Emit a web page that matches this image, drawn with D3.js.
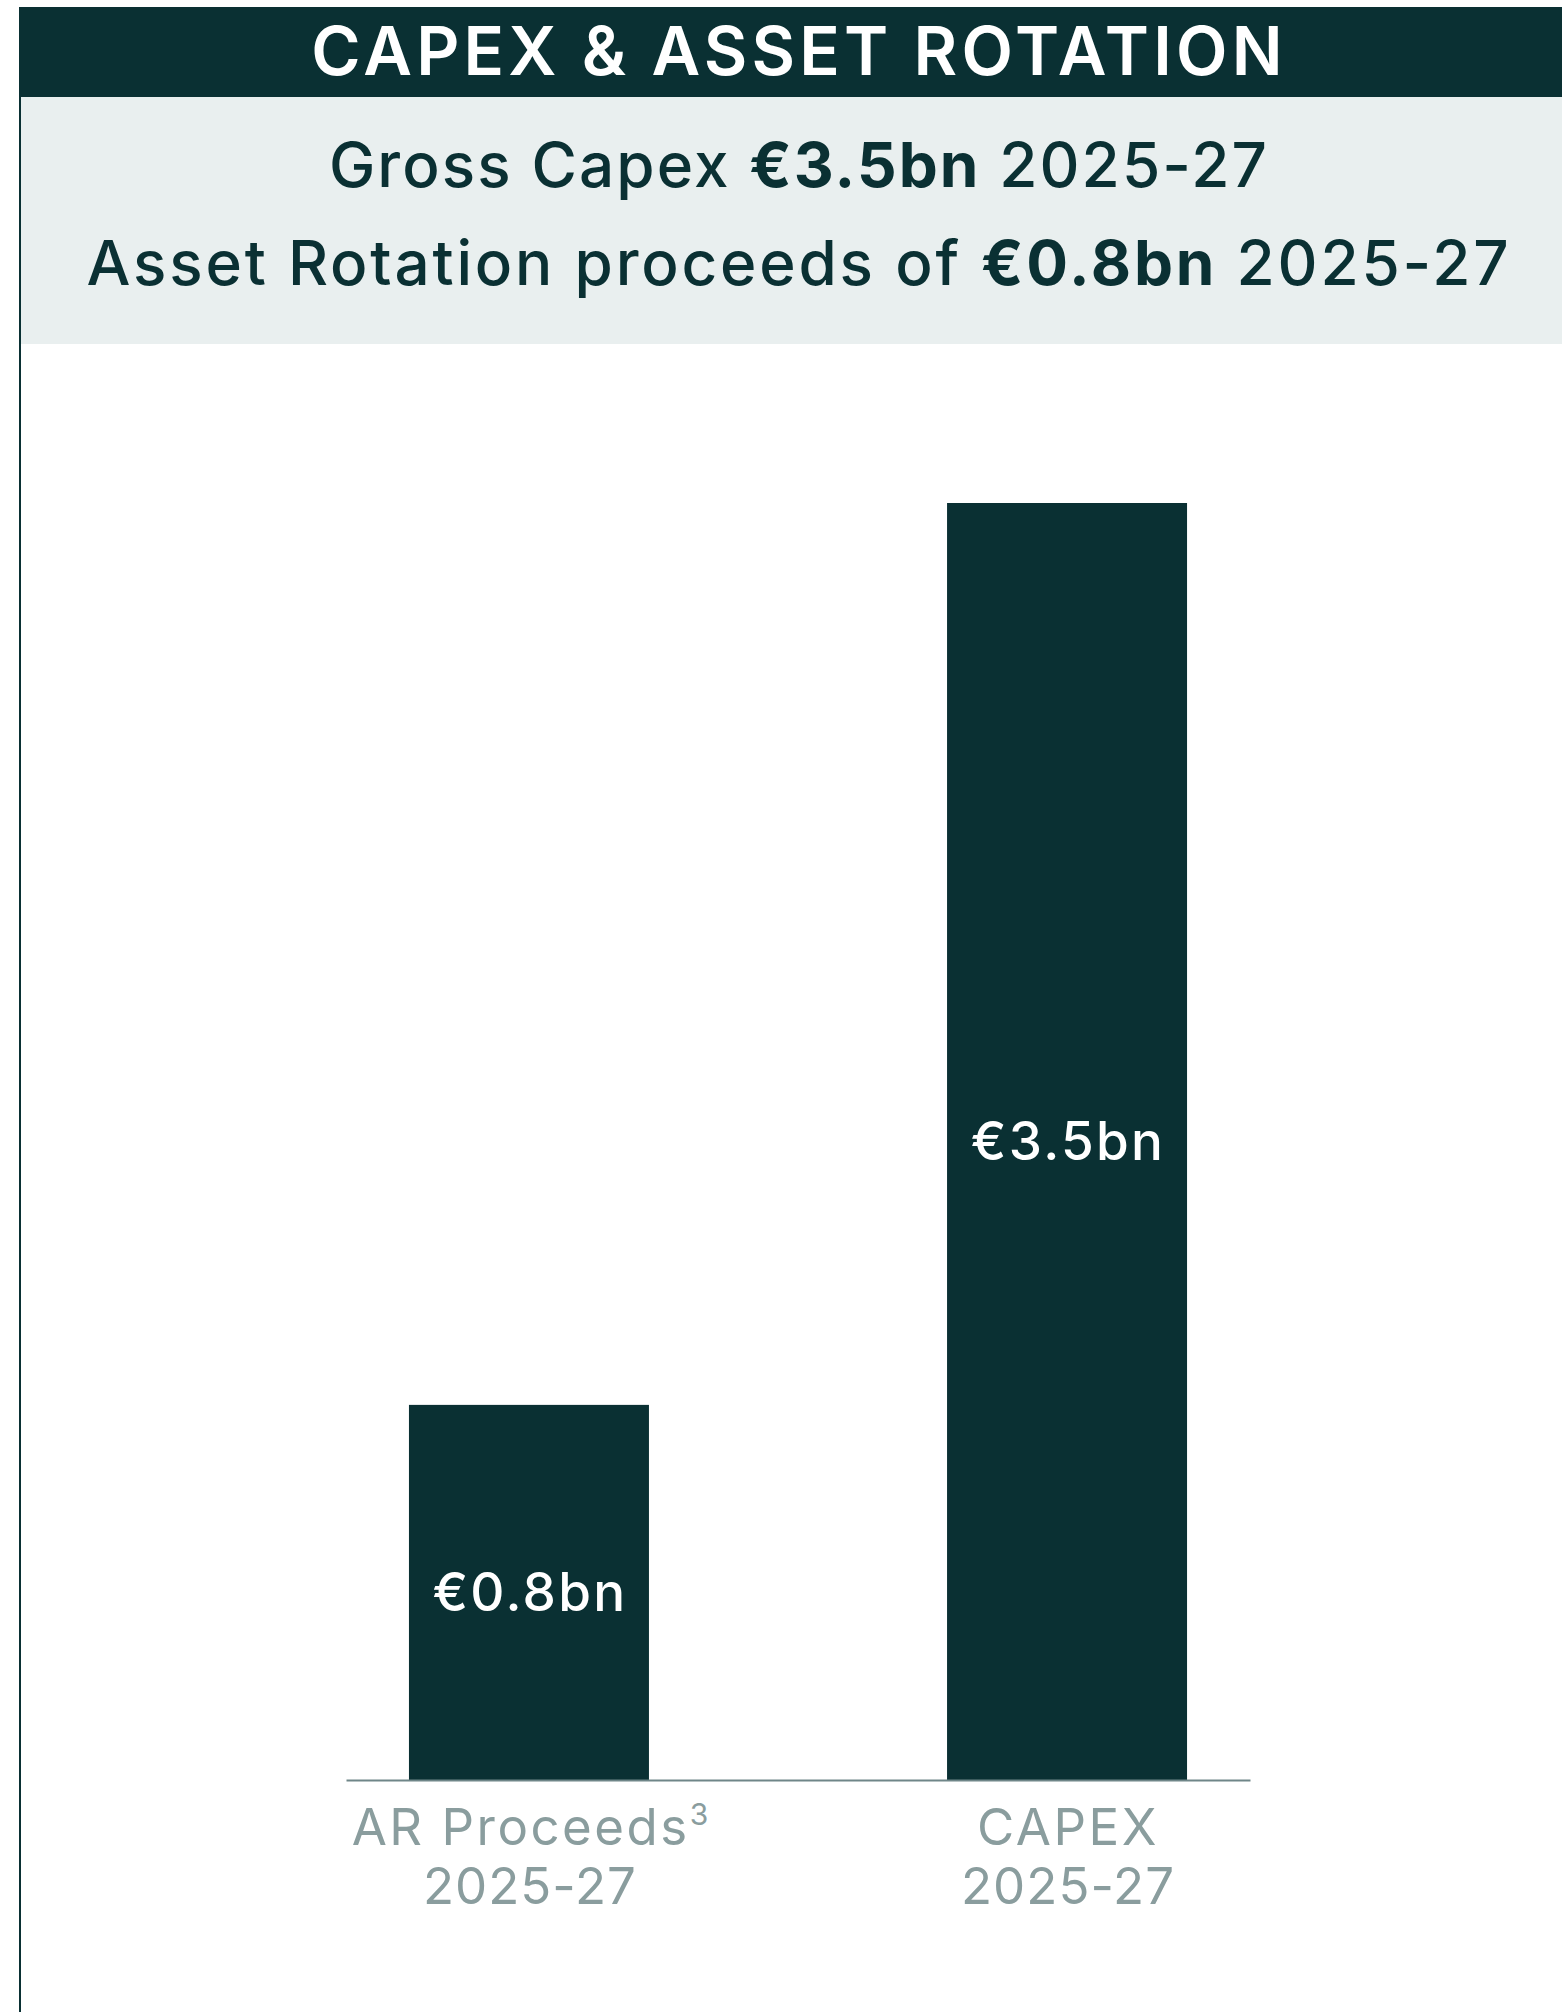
<!DOCTYPE html>
<html>
<head>
<meta charset="utf-8">
<script src="https://cdn.jsdelivr.net/npm/d3@7"></script>
<style>
  html, body { margin: 0; padding: 0; background: #ffffff; }
  svg { display: block; }
  text { font-family: Inter, "Open Sans", sans-serif; }
</style>
</head>
<body>
<svg id="chart" width="1562" height="2012"></svg>
<script>
// Chart content
const title = "CAPEX & ASSET ROTATION";
const headlineParts = [
  [{ t: "Gross Capex ", w: 500 }, { t: "€3.5bn", w: 700 }, { t: " 2025-27", w: 500 }],
  [{ t: "Asset Rotation proceeds of ", w: 500 }, { t: "€0.8bn", w: 700 }, { t: " 2025-27", w: 500 }]
];
const categories = ["AR Proceeds", "CAPEX"];
const categoryNotes = ["3", ""];
const periods = ["2025-27", "2025-27"];
const values = [0.8, 3.5];
const valueLabels = ["€0.8bn", "€3.5bn"];

const dark = "#0a3033";
const band = "#e9efef";
const grey = "#8a9d9e";
const axisGrey = "#6f8688";

const svg = d3.select("#chart");

// Frame: dark header strip, pale headline band, left rule
svg.append("rect").attr("x", 19).attr("y", 7).attr("width", 1543).attr("height", 90).attr("fill", dark);
svg.append("rect").attr("x", 21).attr("y", 97).attr("width", 1541).attr("height", 247).attr("fill", band);
svg.append("rect").attr("x", 19).attr("y", 7).attr("width", 2).attr("height", 2005).attr("fill", dark);

const cx = 799;
svg.append("text")
  .attr("x", cx).attr("y", 75)
  .attr("text-anchor", "middle")
  .attr("fill", "#ffffff")
  .attr("font-size", 67).attr("font-weight", 600)
  .attr("letter-spacing", 4.2)
  .text(title);

const headlineY = [187, 285];
const headlineSpacing = [2.1, 2.8];
headlineParts.forEach((parts, i) => {
  const t = svg.append("text")
    .attr("x", cx).attr("y", headlineY[i])
    .attr("text-anchor", "middle")
    .attr("fill", dark)
    .attr("font-size", 62)
    .attr("letter-spacing", headlineSpacing[i]);
  parts.forEach(p => t.append("tspan").attr("font-weight", p.w).text(p.t));
});

// Scales
const baseY = 1780, topY = 503;
const x = d3.scaleBand()
  .domain(categories)
  .range([346, 1250])
  .paddingInner(0.554)
  .paddingOuter(0.117);

const y = d3.scaleLinear()
  .domain([-0.323, d3.max(values)])
  .range([baseY, topY]);

const data = categories.map((c, i) => ({ c, v: values[i], label: valueLabels[i], note: categoryNotes[i], period: periods[i] }));

// Bars
svg.append("g").selectAll("rect")
  .data(data)
  .join("rect")
  .attr("x", d => x(d.c))
  .attr("width", x.bandwidth())
  .attr("y", d => y(d.v))
  .attr("height", d => y.range()[0] - y(d.v))
  .attr("fill", dark);

// Value labels, centred in each bar
svg.append("g").selectAll("text")
  .data(data)
  .join("text")
  .attr("x", d => x(d.c) + x.bandwidth() / 2 + 1)
  .attr("y", d => (y(d.v) + y.range()[0]) / 2)
  .attr("dy", "0.35em")
  .attr("text-anchor", "middle")
  .attr("fill", "#ffffff")
  .attr("font-size", 53).attr("font-weight", 500)
  .attr("letter-spacing", 2.3)
  .text(d => d.label);

// Baseline axis
const axis = svg.append("g")
  .attr("transform", `translate(0,${baseY})`)
  .call(d3.axisBottom(x).tickSize(0).tickSizeOuter(0).tickFormat(""));
axis.select(".domain").attr("stroke", axisGrey).attr("stroke-width", 2);

// Category labels
const lab = svg.append("g").selectAll("text")
  .data(data)
  .join("text")
  .attr("text-anchor", "middle")
  .attr("fill", grey)
  .attr("font-size", 51).attr("font-weight", 400);
lab.append("tspan")
  .attr("x", d => x(d.c) + x.bandwidth() / 2 + 1)
  .attr("y", 1845)
  .attr("letter-spacing", 2.5)
  .text(d => d.c)
  .append("tspan")
  .attr("font-size", 30)
  .attr("dy", -20)
  .attr("letter-spacing", 0)
  .text(d => d.note);
lab.append("tspan")
  .attr("x", d => x(d.c) + x.bandwidth() / 2 + 1)
  .attr("y", 1904)
  .attr("letter-spacing", 1)
  .text(d => d.period);
</script>
</body>
</html>
